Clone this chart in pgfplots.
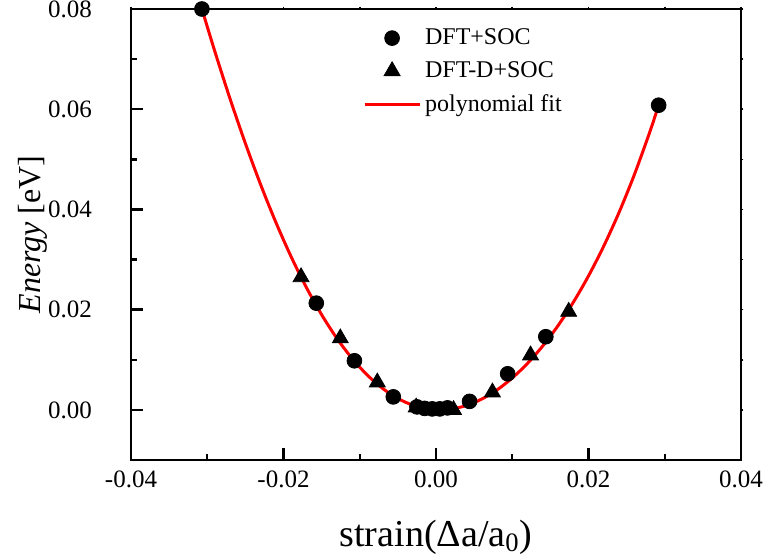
\documentclass[border=0pt]{standalone}
\usepackage{fontspec}
\setmainfont{Liberation Serif}
\usepackage{pgfplots}
\pgfplotsset{compat=1.18}
\begin{document}
\begin{tikzpicture}
\begin{axis}[
  scale only axis, width=305pt, height=225.5pt,
  xmin=-0.04, xmax=0.04, ymin=-0.01, ymax=0.08,
  xtick={-0.04,-0.02,0,0.02,0.04}, ytick={0,0.02,0.04,0.06,0.08},
  minor tick num=1,
  tick align=inside, xtick pos=bottom, ytick pos=left,
  major tick length=6pt, minor tick length=3pt,
  axis line style={line width=1.2pt},
  every tick/.style={line width=1.2pt, black},
  scaled ticks=false,
  every tick label/.append style={font=\fontsize{12.5}{14}\selectfont},
  /pgf/number format/fixed, /pgf/number format/fixed zerofill,
  /pgf/number format/precision=2, /pgf/number format/assume math mode=true,
  xticklabel style={yshift=-2pt},
  yticklabel style={xshift=-16pt},
  xlabel={strain(Δa/a\textsubscript{0})},
  ylabel={\textit{Energy} [eV]},
  xlabel style={at={(axis description cs:0.5,-0.1707)}, anchor=center, font=\fontsize{19}{22}\selectfont},
  ylabel style={at={(axis description cs:-0.1607,0.5)}, anchor=center, font=\fontsize{16}{19}\selectfont},
  legend style={draw=none, fill=none, at={(axis description cs:0.37,0.975)}, anchor=north west,
    font=\fontsize{12}{14}\selectfont, row sep=3pt},
  legend cell align=left,
  legend image code/.code={\draw[mark repeat=2,mark phase=2] plot coordinates {(0pt,0pt) (13.75pt,0pt) (27.5pt,0pt)};},
]
\addplot[only marks, mark=*, mark size=3.7pt, black] coordinates {
(-0.0307,0.0800) (-0.0157,0.0213) (-0.0107,0.0098) (-0.0056,0.0026)
(-0.0025,0.0006) (-0.0015,0.0003) (-0.0005,0.0002) (0.0005,0.0002) (0.0015,0.0004)
(0.0044,0.0017) (0.0094,0.0072) (0.0144,0.0146) (0.0292,0.0608)
};
\addlegendentry{DFT+SOC}
\addplot[only marks, mark=triangle*, mark size=4.6pt, black] coordinates {
(-0.0177,0.0265) (-0.01255,0.0143) (-0.0077,0.0055) (-0.0026,0.0005)
(0.0023,0.0000) (0.0074,0.0035) (0.0124,0.0109) (0.0174,0.0196)
};
\addlegendentry{DFT-D+SOC}
\addplot[red, line width=1.5pt, smooth, no marks] coordinates {
(-0.0307,0.08000) (-0.029,0.07151) (-0.027,0.06204) (-0.025,0.05318) (-0.023,0.04496)
(-0.021,0.03742) (-0.019,0.03057) (-0.017,0.02443) (-0.015,0.01900) (-0.013,0.01428)
(-0.011,0.01026) (-0.009,0.00693) (-0.007,0.004275) (-0.005,0.002275) (-0.003,0.000912)
(-0.001,0.000166) (0.0005,0.0) (0.002,0.000163) (0.004,0.000881) (0.006,0.002159)
(0.008,0.003986) (0.010,0.006360) (0.012,0.009280) (0.014,0.012756) (0.016,0.016805)
(0.018,0.021453) (0.020,0.026732) (0.022,0.032690) (0.024,0.039387) (0.026,0.046890)
(0.028,0.055290) (0.0292,0.060797)
};
\addlegendentry{polynomial fit}
\coordinate (BL) at (rel axis cs:0,0);
\coordinate (TR) at (rel axis cs:1,1);
\end{axis}
\begin{axis}[
  scale only axis, width=305pt, height=225.5pt,
  xmin=-0.04, xmax=0.04, ymin=-0.01, ymax=0.08,
  xtick={-0.04,-0.02,0,0.02,0.04}, ytick={0,0.02,0.04,0.06,0.08},
  minor tick num=1, scaled ticks=false,
  axis x line*=top, axis y line*=right,
  axis line style={-, line width=1.2pt},
  tick align=outside, major tick length=1.2pt, minor tick length=1.2pt,
  every tick/.style={line width=0.8pt, black},
  xticklabels={}, yticklabels={},
]
\end{axis}
\pgfresetboundingbox
\path ([xshift=-65.5pt,yshift=-49.5pt]BL) rectangle ([xshift=13pt,yshift=4.5pt]TR);
\end{tikzpicture}
\end{document}
